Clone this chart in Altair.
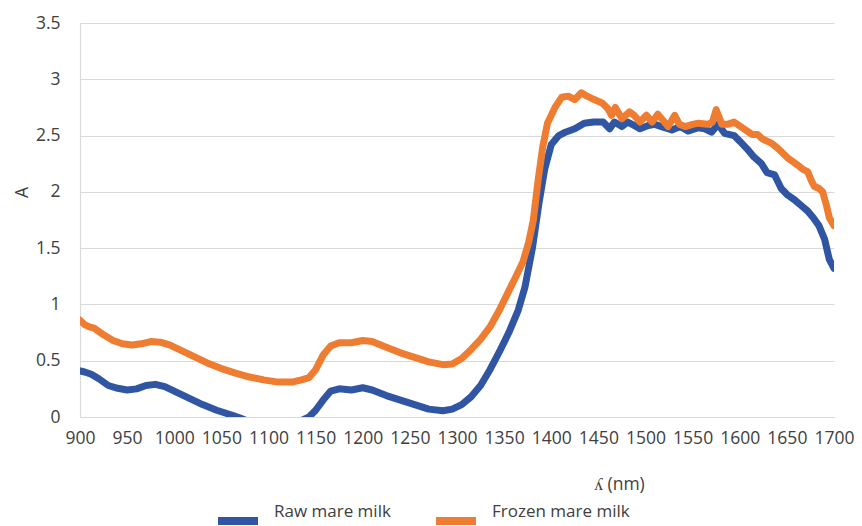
import altair as alt
import pandas as pd

raw_nm = [900, 905, 912, 920, 930, 940, 950, 960, 970, 980, 990, 1000, 1015, 1030, 1045, 1060,
          1070, 1085, 1100, 1115, 1130, 1143, 1150, 1158, 1166, 1175, 1188, 1200, 1210, 1225,
          1240, 1255, 1270, 1285, 1295, 1305, 1315, 1325, 1335, 1345, 1355, 1365, 1372, 1380,
          1387, 1393, 1400, 1408, 1415, 1425, 1435, 1445, 1455, 1462, 1467, 1475, 1481, 1488,
          1494, 1503, 1510, 1517, 1528, 1537, 1545, 1556, 1563, 1570, 1577, 1584, 1594, 1600,
          1608, 1615, 1623, 1629, 1637, 1644, 1651, 1658, 1665, 1672, 1678, 1684, 1690, 1695, 1700]
raw_a = [0.41, 0.40, 0.38, 0.34, 0.28, 0.255, 0.24, 0.25, 0.28, 0.29, 0.27, 0.23, 0.17, 0.11, 0.06, 0.02,
         -0.01, -0.06, -0.08, -0.08, -0.05, 0.0, 0.06, 0.15, 0.23, 0.25, 0.24, 0.26, 0.24, 0.19,
         0.15, 0.11, 0.07, 0.055, 0.07, 0.11, 0.18, 0.28, 0.42, 0.58, 0.75, 0.95, 1.15, 1.5,
         1.9, 2.2, 2.42, 2.5, 2.53, 2.56, 2.61, 2.62, 2.62, 2.56, 2.62, 2.58, 2.62, 2.59,
         2.56, 2.59, 2.6, 2.58, 2.55, 2.58, 2.54, 2.57, 2.56, 2.53, 2.6, 2.52, 2.5, 2.45,
         2.38, 2.31, 2.25, 2.17, 2.15, 2.03, 1.97, 1.93, 1.88, 1.83, 1.77, 1.7, 1.58, 1.4, 1.32]

frozen_nm = [900, 905, 910, 915, 925, 935, 945, 955, 965, 975, 985, 995, 1005, 1020, 1035, 1050,
             1065, 1080, 1095, 1110, 1125, 1135, 1143, 1150, 1158, 1166, 1175, 1188, 1200, 1210,
             1225, 1240, 1255, 1270, 1285, 1295, 1305, 1315, 1325, 1335, 1345, 1355, 1362, 1370,
             1376, 1381, 1386, 1391, 1396, 1404, 1411, 1418, 1425, 1432, 1438, 1443, 1454, 1460,
             1464, 1468, 1475, 1483, 1488, 1494, 1501, 1507, 1513, 1518, 1524, 1531, 1536, 1542,
             1550, 1556, 1566, 1571, 1575, 1581, 1587, 1594, 1601, 1608, 1613, 1619, 1624, 1629,
             1634, 1640, 1645, 1651, 1656, 1661, 1667, 1672, 1676, 1679, 1684, 1688, 1692, 1695, 1700]
frozen_a = [0.86, 0.82, 0.80, 0.79, 0.73, 0.68, 0.65, 0.64, 0.65, 0.67, 0.665, 0.64, 0.60, 0.54, 0.48, 0.43,
            0.39, 0.355, 0.33, 0.31, 0.31, 0.33, 0.35, 0.42, 0.55, 0.63, 0.66, 0.66, 0.68, 0.67,
            0.62, 0.57, 0.53, 0.49, 0.465, 0.47, 0.52, 0.60, 0.69, 0.80, 0.95, 1.12, 1.24, 1.38,
            1.55, 1.75, 2.1, 2.4, 2.61, 2.75, 2.84, 2.85, 2.82, 2.88, 2.85, 2.83, 2.79, 2.74,
            2.68, 2.75, 2.65, 2.71, 2.68, 2.62, 2.68, 2.62, 2.69, 2.64, 2.58, 2.68, 2.6, 2.58,
            2.6, 2.61, 2.6, 2.62, 2.73, 2.6, 2.6, 2.62, 2.58, 2.54, 2.51, 2.51, 2.47, 2.45,
            2.43, 2.39, 2.35, 2.3, 2.27, 2.24, 2.2, 2.18, 2.1, 2.05, 2.03, 2.0, 1.88, 1.77, 1.7]

series = ["Raw mare milk", "Frozen mare milk"]
colors = ["#2F55A3", "#EE7D31"]
x_ticks = list(range(900, 1701, 50))
y_ticks = [0, 0.5, 1, 1.5, 2, 2.5, 3, 3.5]

df = pd.concat([
    pd.DataFrame({"nm": raw_nm, "A": raw_a, "series": series[0], "order": 0}),
    pd.DataFrame({"nm": frozen_nm, "A": frozen_a, "series": series[1], "order": 1}),
], ignore_index=True)

FONT = "Open Sans"
TXT = "#404040"
FS = 17.5

chart = alt.Chart(df).mark_line(clip=True, strokeWidth=7, strokeCap="round", strokeJoin="round").encode(
    x=alt.X("nm:Q",
            scale=alt.Scale(domain=[900, 1700], nice=False, zero=False),
            axis=alt.Axis(values=x_ticks, format="d", title="ʎ (nm)", grid=False, ticks=False,
                          domainColor="#d9d9d9", domainWidth=1.2,
                          labelPadding=12, labelFontSize=FS, labelColor=TXT, labelFont=FONT,
                          labelFlush=False, labelOverlap=False,
                          titleFont=FONT, titleFontSize=FS, titleColor=TXT, titleFontWeight="normal",
                          titleX=539, titleY=67, titleBaseline="middle", titleAlign="center")),
    y=alt.Y("A:Q",
            scale=alt.Scale(domain=[0, 3.5], nice=False),
            axis=alt.Axis(values=y_ticks, labelExpr="'' + datum.value", title="A", grid=True,
                          gridColor="#d9d9d9", gridWidth=1.2,
                          ticks=False, domainColor="#d9d9d9", domainWidth=1.2,
                          labelPadding=20, labelFontSize=FS, labelColor=TXT, labelFont=FONT,
                          labelFlush=False, labelOverlap=False,
                          titleFont=FONT, titleFontSize=FS, titleColor=TXT, titleFontWeight="normal",
                          titleX=-58, titleY=169, titleBaseline="middle", titleAlign="center",
                          titleAngle=270)),
    color=alt.Color("series:N",
                    scale=alt.Scale(domain=series, range=colors),
                    legend=alt.Legend(title=None, orient="none", direction="horizontal",
                                      legendX=134, legendY=474,
                                      symbolType="stroke", symbolSize=1600, symbolStrokeWidth=8,
                                      labelOffset=12, columnPadding=29,
                                      labelFont=FONT, labelFontSize=17, labelColor=TXT,
                                      labelBaseline="bottom")),
    detail="series:N",
    order=alt.Order("order:Q"),
).properties(
    width=754,
    height=394,
    autosize=alt.AutoSizeParams(type="none"),
    padding={"left": 72, "top": 15, "right": 20, "bottom": 110},
).configure_view(stroke=None)

chart.save("out.html", embed_options={"renderer": "svg", "actions": False})
